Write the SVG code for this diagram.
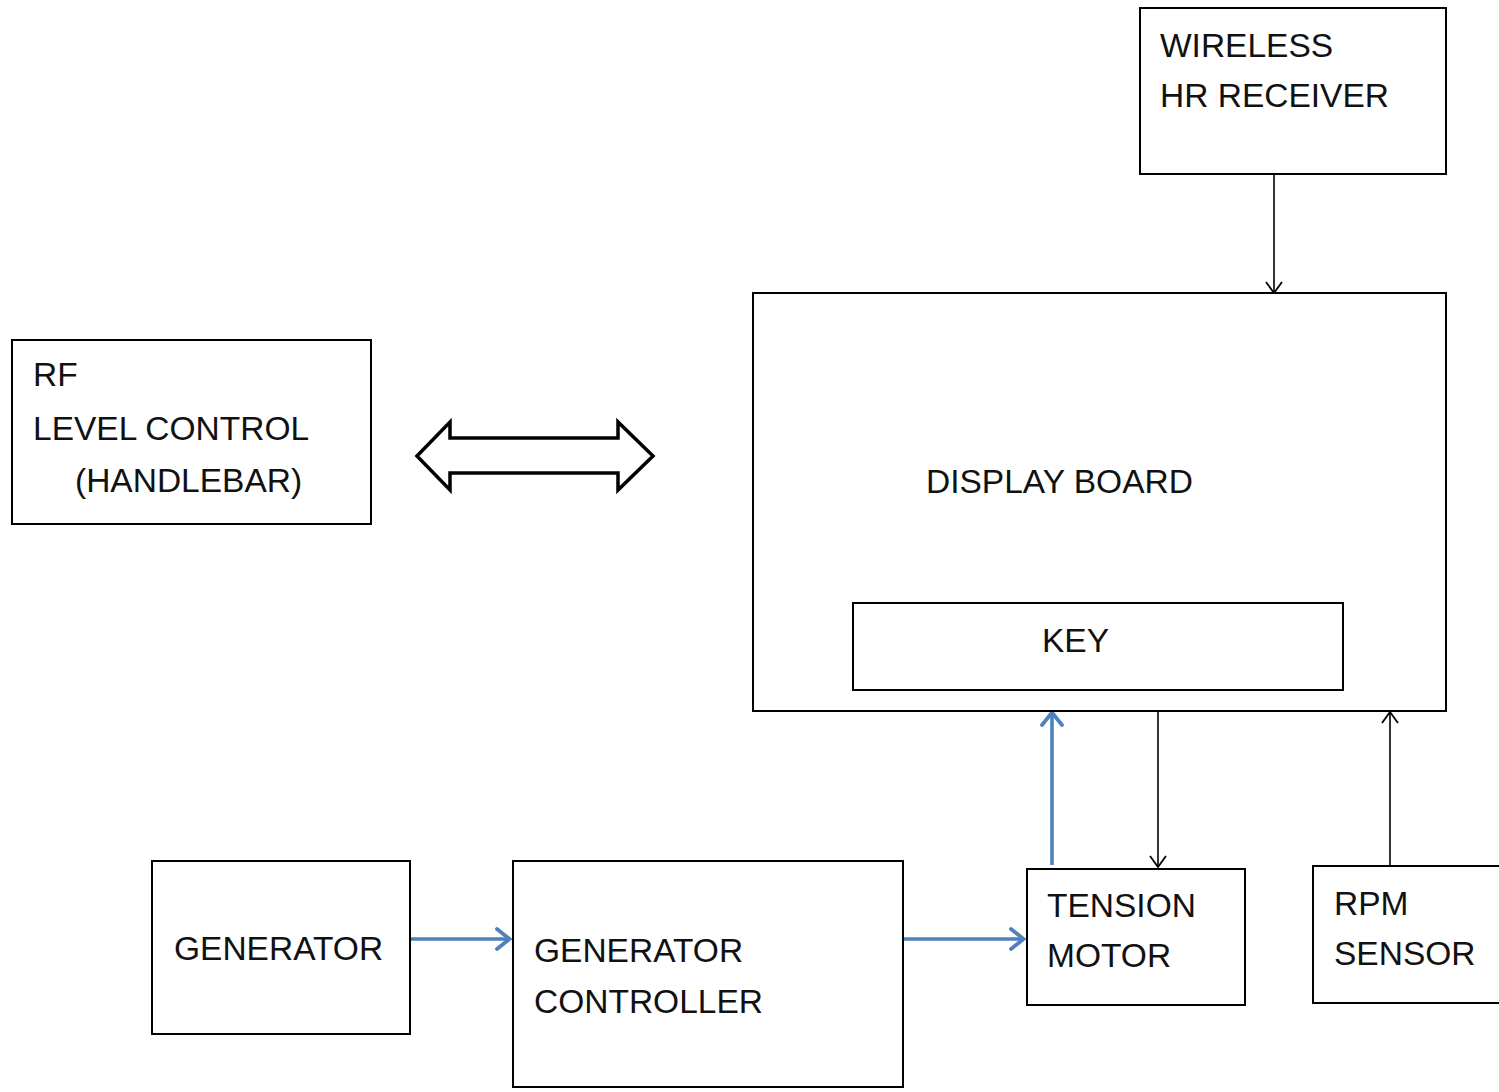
<svg xmlns="http://www.w3.org/2000/svg" width="1499" height="1092" viewBox="0 0 1499 1092">
<style>
.box{fill:#fff;stroke:#000;stroke-width:2}
.t{font-family:"Liberation Sans",Arial,sans-serif;font-size:33.5px;fill:#111}
.blk{stroke:#000;stroke-width:1.6;fill:none}
.blu{stroke:#4F81BD;stroke-width:3.6;fill:none}
</style>
<defs>
<marker id="ab" markerUnits="userSpaceOnUse" markerWidth="30" markerHeight="30" viewBox="-15 -15 30 30" refX="0" refY="0" orient="auto">
<path d="M-11,-8 L0,0 L-11,8" fill="none" stroke="#000" stroke-width="1.8"/>
</marker>
<marker id="au" markerUnits="userSpaceOnUse" markerWidth="30" markerHeight="30" viewBox="-15 -15 30 30" refX="0" refY="0" orient="auto">
<path d="M-13,-10 L-0.5,0 L-13,10" fill="none" stroke="#4F81BD" stroke-width="3.8" stroke-linecap="round"/>
</marker>
</defs>
<rect width="1499" height="1092" fill="#fff"/>
<g id="connectors">
<line class="blk" x1="1274" y1="174" x2="1274" y2="293" marker-end="url(#ab)"/>
<line class="blu" x1="1052" y1="865" x2="1052" y2="712" marker-end="url(#au)"/>
<line class="blk" x1="1158" y1="711" x2="1158" y2="867" marker-end="url(#ab)"/>
<line class="blk" x1="1390" y1="866" x2="1390" y2="712" marker-end="url(#ab)"/>
<line class="blu" x1="410" y1="939" x2="510" y2="939" marker-end="url(#au)"/>
<line class="blu" x1="903" y1="939" x2="1024" y2="939" marker-end="url(#au)"/>
<polygon points="417,456 450,422 450,438 618,438 618,422 653,456 618,490 618,473 450,473 450,490" fill="#fff" stroke="#000" stroke-width="3.5" stroke-linejoin="miter"/>
</g>
<g id="wireless">
<rect class="box" x="1140" y="8" width="306" height="166"/>
<text class="t" x="1160" y="57">WIRELESS</text>
<text class="t" x="1160" y="107">HR RECEIVER</text>
</g>
<g id="display">
<rect class="box" x="753" y="293" width="693" height="418" fill="none"/>
<text class="t" x="926" y="493">DISPLAY BOARD</text>
</g>
<g id="key">
<rect class="box" x="853" y="603" width="490" height="87"/>
<text class="t" x="1042" y="652">KEY</text>
</g>
<g id="rf">
<rect class="box" x="12" y="340" width="359" height="184"/>
<text class="t" x="33" y="386">RF</text>
<text class="t" x="33" y="440">LEVEL CONTROL</text>
<text class="t" x="75" y="492">(HANDLEBAR)</text>
</g>
<g id="generator">
<rect class="box" x="152" y="861" width="258" height="173"/>
<text class="t" x="174" y="960">GENERATOR</text>
</g>
<g id="gencontroller">
<rect class="box" x="513" y="861" width="390" height="226"/>
<text class="t" x="534" y="962">GENERATOR</text>
<text class="t" x="534" y="1013">CONTROLLER</text>
</g>
<g id="tension">
<rect class="box" x="1027" y="869" width="218" height="136"/>
<text class="t" x="1047" y="917">TENSION</text>
<text class="t" x="1047" y="967">MOTOR</text>
</g>
<g id="rpm">
<rect class="box" x="1313" y="866" width="200" height="137"/>
<text class="t" x="1334" y="915">RPM</text>
<text class="t" x="1334" y="965">SENSOR</text>
</g>
</svg>
